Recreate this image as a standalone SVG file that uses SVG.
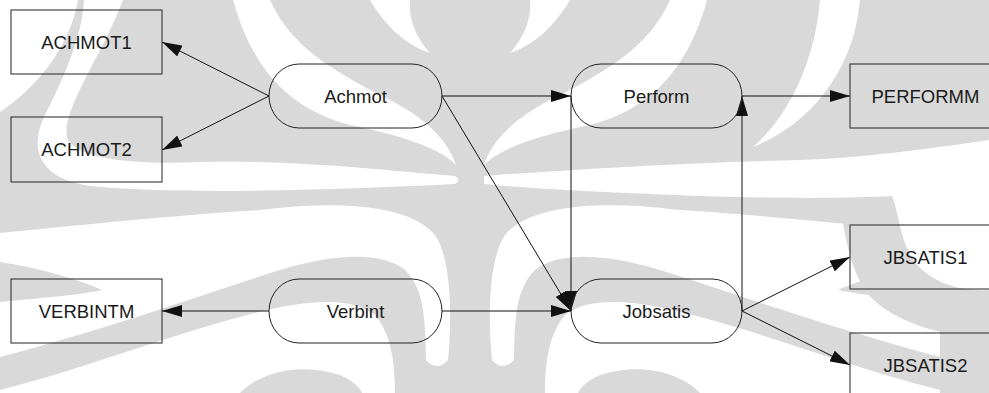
<svg xmlns="http://www.w3.org/2000/svg" xmlns:xlink="http://www.w3.org/1999/xlink" width="989" height="393" viewBox="0 0 989 393">
  <defs>
    <style>
      .box { fill: none; stroke: #222; stroke-width: 1; }
      .pill { fill: none; stroke: #222; stroke-width: 1; }
      .lbl { font-family: "Liberation Sans", Arial, sans-serif; font-size: 18.5px; fill: #1a1a1a; text-anchor: middle; }
      .edge { fill: none; stroke: #111; stroke-width: 1; }
      .wm { fill: #d9d9d9; }
      .wh { fill: #ffffff; }
    </style>
    <marker id="arrow" markerUnits="userSpaceOnUse" markerWidth="20" markerHeight="12" refX="20" refY="6" orient="auto">
      <path d="M0,0 L20,6 L0,12 Z" fill="#111"/>
    </marker>
    <!-- left half of the background emblem; mirrored for the right half -->
    <g id="emblem-half">
      <path class="wh" d="M233,0 L270,0 C290,45 330,70 390,100 C425,118 448,140 456,165 C440,148 400,135 350,125 C300,112 255,80 233,0 Z"/>
      <path class="wh" d="M370,0 L410,0 C408,20 418,40 430,53 C405,45 385,25 370,0 Z"/>
      <path class="wh" d="M0,233 C80,225 180,215 260,210 C340,200 410,205 435,235 C452,260 452,320 448,360 Q437,372 426,360 C425,320 425,290 405,270 C380,250 330,255 280,270 C200,295 120,325 0,357 Z"/>
      <path class="wm" d="M0,262 C40,268 80,280 102,290 C80,295 40,298 0,302 Z"/>
      <path class="wh" d="M0,393 L0,390 C80,370 170,335 240,317 C300,300 350,295 375,315 C392,335 395,365 395,393 Z"/>
      <path class="wm" d="M240,393 C260,372 300,362 340,375 C355,382 360,388 362,393 Z"/>
    </g>
  </defs>

  <!-- background emblem -->
  <g id="emblem">
    <rect class="wm" x="0" y="0" width="989" height="393"/>
    <path class="wh" d="M0,0 L78,0 C70,45 40,85 0,112 Z"/>
    <path class="wh" d="M84,0 L123,0 C100,60 58,115 68,140 C80,160 140,165 200,162 C300,160 380,170 455,176 Q462,180 455,184 C330,190 180,195 90,186 C35,178 30,145 45,115 C60,85 82,40 84,0 Z"/>
    <use xlink:href="#emblem-half"/>
    <use xlink:href="#emblem-half" transform="matrix(-1 0 0 1 940 0)"/>
    <path class="wh" d="M820,0 L860,0 C855,60 820,120 753,147 C790,115 815,60 820,0 Z"/>
    <!-- right sweep: band running right, then dropping into the bowl -->
    <path class="wm" d="M840,195 L900,160 L989,160 L989,338 C950,338 880,322 860,282 C848,256 842,226 840,195 Z"/>
    <path class="wh" d="M484,176 C560,170 700,162 800,160 C860,158 920,150 989,140 L989,290 C960,292 928,282 912,258 C900,238 898,210 892,196 C860,198 790,199 700,196 C600,192 520,188 484,184 Z"/>
  </g>

  <!-- connectors -->
  <g id="connectors">
    <line class="edge" x1="269" y1="96" x2="162" y2="42" marker-end="url(#arrow)"/>
    <line class="edge" x1="269" y1="96" x2="162" y2="150" marker-end="url(#arrow)"/>
    <line class="edge" x1="442" y1="96" x2="571" y2="96" marker-end="url(#arrow)"/>
    <line class="edge" x1="742" y1="96" x2="850" y2="96" marker-end="url(#arrow)"/>
    <line class="edge" x1="442" y1="96" x2="571" y2="311" marker-end="url(#arrow)"/>
    <line class="edge" x1="571" y1="96" x2="571" y2="311" marker-end="url(#arrow)"/>
    <line class="edge" x1="742" y1="311" x2="742" y2="96" marker-end="url(#arrow)"/>
    <line class="edge" x1="269" y1="311" x2="162" y2="311" marker-end="url(#arrow)"/>
    <line class="edge" x1="442" y1="311" x2="571" y2="311" marker-end="url(#arrow)"/>
    <line class="edge" x1="742" y1="311" x2="850" y2="257" marker-end="url(#arrow)"/>
    <line class="edge" x1="742" y1="311" x2="850" y2="365" marker-end="url(#arrow)"/>
  </g>

  <!-- nodes -->
  <g id="ACHMOT1">
    <rect class="box" x="11" y="10" width="151" height="64"/>
    <text class="lbl" x="86.5" y="48.5">ACHMOT1</text>
  </g>
  <g id="ACHMOT2">
    <rect class="box" x="11" y="117" width="151" height="65"/>
    <text class="lbl" x="86.5" y="156">ACHMOT2</text>
  </g>
  <g id="VERBINTM">
    <rect class="box" x="11" y="279" width="151" height="64"/>
    <text class="lbl" x="86.5" y="317.5">VERBINTM</text>
  </g>
  <g id="Achmot">
    <rect class="pill" x="269" y="64" width="173" height="64" rx="30" ry="32"/>
    <text class="lbl" x="355.5" y="102.5">Achmot</text>
  </g>
  <g id="Verbint">
    <rect class="pill" x="269" y="279" width="173" height="64" rx="30" ry="32"/>
    <text class="lbl" x="355.5" y="317.5">Verbint</text>
  </g>
  <g id="Perform">
    <rect class="pill" x="571" y="64" width="171" height="64" rx="30" ry="32"/>
    <text class="lbl" x="656.5" y="102.5">Perform</text>
  </g>
  <g id="Jobsatis">
    <rect class="pill" x="571" y="279" width="171" height="64" rx="30" ry="32"/>
    <text class="lbl" x="656.5" y="317.5">Jobsatis</text>
  </g>
  <g id="PERFORMM">
    <rect class="box" x="850" y="64" width="151" height="64"/>
    <text class="lbl" x="925.5" y="102.5">PERFORMM</text>
  </g>
  <g id="JBSATIS1">
    <rect class="box" x="850" y="225" width="151" height="64"/>
    <text class="lbl" x="925.5" y="263.5">JBSATIS1</text>
  </g>
  <g id="JBSATIS2">
    <rect class="box" x="850" y="333" width="151" height="64"/>
    <text class="lbl" x="925.5" y="371.5">JBSATIS2</text>
  </g>
</svg>
